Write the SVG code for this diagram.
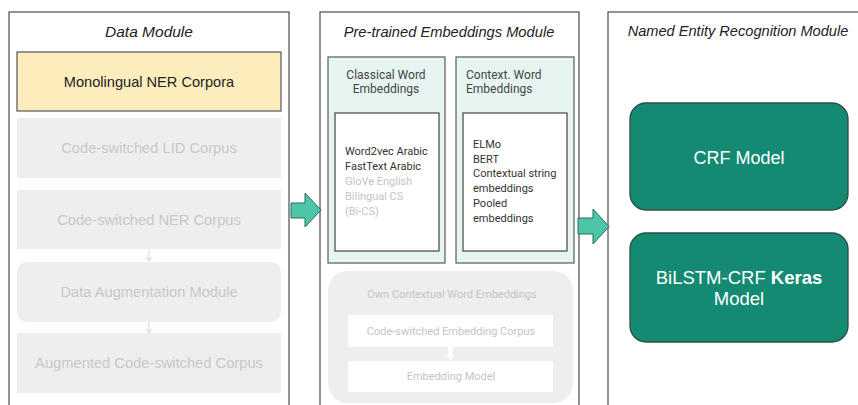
<svg xmlns="http://www.w3.org/2000/svg" width="858" height="405" viewBox="0 0 858 405">
<style>
.panel{fill:#ffffff;stroke:#5a5a5a;stroke-width:1.3}
.title{font-family:"Liberation Sans",Arial,sans-serif;font-style:italic;fill:#222;text-anchor:middle}
.grey{fill:#eeeeee;stroke:none}
.gtxt{font-family:"Liberation Sans",Arial,sans-serif;font-size:14.7px;fill:#c8c8c8;text-anchor:middle}
.emb{fill:#e6f5f1;stroke:#5a5a5a;stroke-width:1.2}
.inner{fill:#ffffff;stroke:#444;stroke-width:1.2}
.r{font-family:Roboto,"Liberation Sans",sans-serif;font-size:11px;fill:#333}
.rg{font-family:Roboto,"Liberation Sans",sans-serif;font-size:11px;fill:#c4c4c4}
.hd{font-family:Roboto,"Liberation Sans",sans-serif;font-size:12px;fill:#444}
.model{fill:#138a71;stroke:#2f4f45;stroke-width:1.3}
.mt{font-family:"Liberation Sans",Arial,sans-serif;fill:#ffffff;text-anchor:middle}
.big{fill:#4bc7a8;stroke:#2c6a5b;stroke-width:1}
</style>
<rect width="858" height="405" fill="#ffffff"/>

<g id="data-module">
<rect class="panel" x="9" y="12" width="280" height="400"/>
<text class="title" x="149" y="37" font-size="15.5">Data Module</text>
</g>
<g id="monolingual">
<rect x="17" y="52" width="264" height="59" fill="#fdedbd" stroke="#555" stroke-width="1.2"/>
<text x="149" y="87" font-family="Liberation Sans, Arial, sans-serif" font-size="14.6" fill="#222" text-anchor="middle">Monolingual NER Corpora</text>
</g>
<g id="lid-corpus">
<rect class="grey" x="17" y="118" width="264" height="60"/>
<text class="gtxt" x="149" y="153">Code-switched LID Corpus</text>
</g>
<g id="ner-corpus">
<rect class="grey" x="17" y="190" width="264" height="59"/>
<text class="gtxt" x="149" y="225">Code-switched NER Corpus</text>
</g>
<g id="data-augmentation">
<rect class="grey" x="17" y="262" width="264" height="60" rx="10"/>
<text class="gtxt" x="149" y="297">Data Augmentation Module</text>
</g>
<g id="augmented-corpus">
<rect class="grey" x="17" y="333" width="264" height="60"/>
<text class="gtxt" x="149" y="368">Augmented Code-switched Corpus</text>
</g>

<g id="pretrained-module">
<rect class="panel" x="320" y="12" width="259" height="400"/>
<text class="title" x="449" y="37" font-size="14.7">Pre-trained Embeddings Module</text>
</g>
<g id="classical">
<rect class="emb" x="328" y="57" width="117" height="206"/>
<text class="hd" x="386" y="79" text-anchor="middle">Classical Word</text>
<text class="hd" x="386" y="93" text-anchor="middle">Embeddings</text>
<rect class="inner" x="335" y="113" width="104" height="138"/>
<text class="r" x="345" y="155">Word2vec Arabic</text>
<text class="r" x="345" y="170">FastText Arabic</text>
<text class="rg" x="345" y="185">GloVe English</text>
<text class="rg" x="345" y="200">Bilingual CS</text>
<text class="rg" x="345" y="215">(Bi-CS)</text>
</g>
<g id="contextual">
<rect class="emb" x="456" y="57" width="118" height="206"/>
<text class="hd" x="466" y="79">Context. Word</text>
<text class="hd" x="466" y="93">Embeddings</text>
<rect class="inner" x="463" y="113" width="104" height="138"/>
<text class="r" x="473" y="148">ELMo</text>
<text class="r" x="473" y="163">BERT</text>
<text class="r" x="473" y="177">Contextual string</text>
<text class="r" x="473" y="192">embeddings</text>
<text class="r" x="473" y="207">Pooled</text>
<text class="r" x="473" y="222">embeddings</text>
</g>
<g id="own-contextual">
<rect class="grey" x="328" y="271" width="245" height="132" rx="20"/>
<text class="rg" x="452" y="298" text-anchor="middle">Own Contextual Word Embeddings</text>
</g>
<g id="embedding-corpus">
<rect x="348" y="315" width="205" height="32" fill="#ffffff"/>
<text class="rg" x="451" y="335" text-anchor="middle">Code-switched Embedding Corpus</text>
</g>
<g id="embedding-model">
<rect x="348" y="361" width="205" height="31" fill="#ffffff"/>
<text class="rg" x="451" y="380" text-anchor="middle">Embedding Model</text>
</g>

<g id="ner-module">
<rect class="panel" x="608" y="12" width="260" height="400"/>
<text class="title" x="738" y="36" font-size="14.6">Named Entity Recognition Module</text>
</g>
<g id="crf">
<rect class="model" x="630" y="103" width="218" height="107" rx="16"/>
<text class="mt" x="739" y="164" font-size="18">CRF Model</text>
</g>
<g id="bilstm">
<rect class="model" x="630" y="233" width="218" height="109" rx="16"/>
<text class="mt" x="739" y="284" font-size="18.5">BiLSTM-CRF <tspan font-weight="bold">Keras</tspan></text>
<text class="mt" x="739" y="305" font-size="18.5">Model</text>
</g>

<g id="connectors">
<line x1="149" y1="250" x2="149" y2="260" stroke="#d6d6d6" stroke-width="1"/>
<path d="M146,257 L149,261 L152,257" fill="none" stroke="#d6d6d6" stroke-width="1"/>
<line x1="149" y1="322" x2="149" y2="332" stroke="#d6d6d6" stroke-width="1"/>
<path d="M146,329 L149,333 L152,329" fill="none" stroke="#d6d6d6" stroke-width="1"/>
<polygon points="448,347 453,347 453,355 455,355 450.5,360 446,355 448,355" fill="#ffffff"/>
<polygon class="big" points="291,203 305,203 305,193 321,210 305,227 305,218 291,218"/>
<polygon class="big" points="578,218 593,218 593,209 609,226.5 593,244 593,234 578,234"/>
</g>
</svg>
